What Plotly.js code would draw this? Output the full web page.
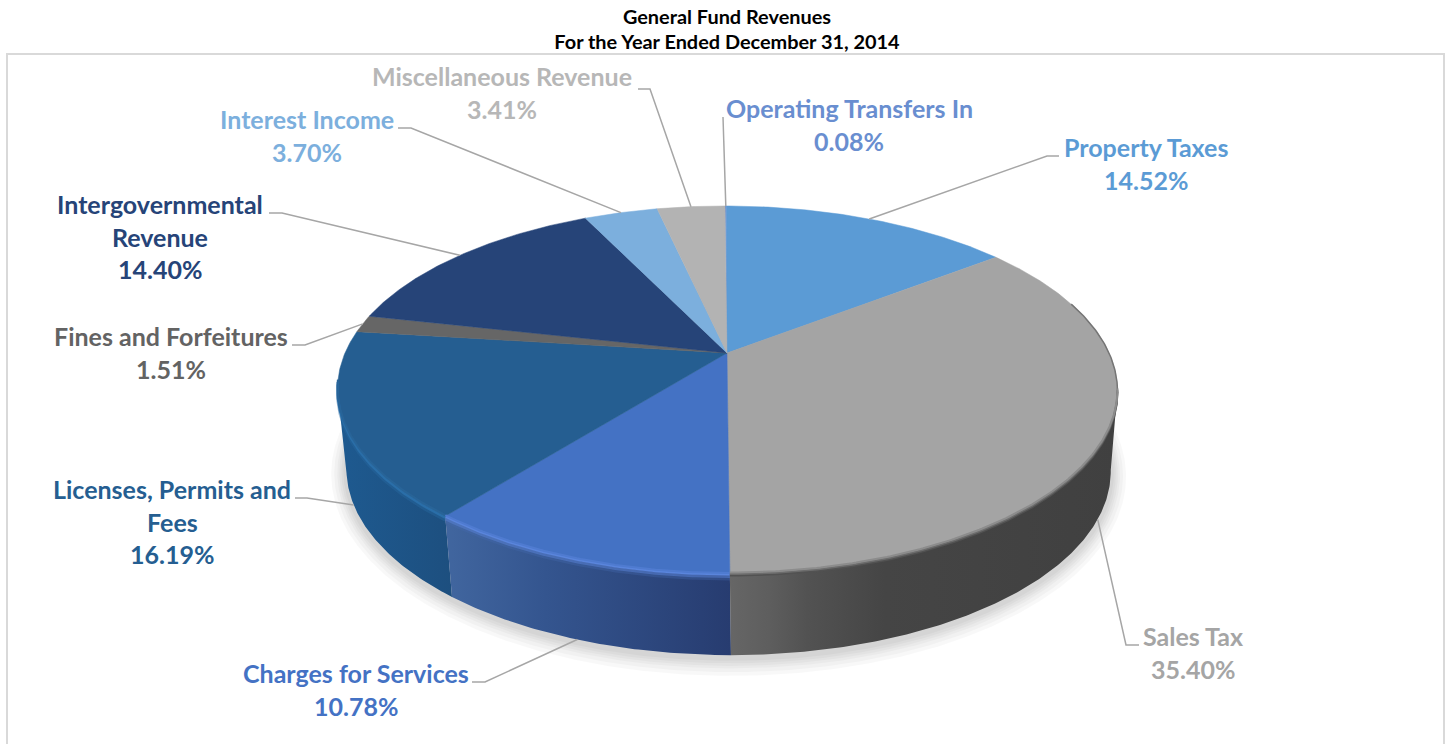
<!DOCTYPE html>
<html>
<head>
<meta charset="utf-8">
<script src="https://cdn.plot.ly/plotly-3.0.1.min.js"></script>
<style>html,body{margin:0;padding:0;background:#fff}#chart{width:1450px;height:744px}</style>
</head>
<body>
<div id="chart"></div>
<script>
// Revenue sources, clockwise from twelve o'clock
const categories = ['Operating Transfers In', 'Property Taxes', 'Sales Tax', 'Charges for Services',
  'Licenses, Permits and Fees', 'Fines and Forfeitures', 'Intergovernmental Revenue',
  'Interest Income', 'Miscellaneous Revenue'];
const shares = [0.08, 14.52, 35.40, 10.78, 16.19, 1.51, 14.40, 3.70, 3.41];

// How each category name wraps on the page
const nameLines = [['Operating Transfers In'], ['Property Taxes'], ['Sales Tax'], ['Charges for Services'],
  ['Licenses, Permits and', 'Fees'], ['Fines and Forfeitures'], ['Intergovernmental', 'Revenue'],
  ['Interest Income'], ['Miscellaneous Revenue']];

const topColors = ['#698ed0', '#5b9bd5', '#a4a4a4', '#4472c4', '#255e91', '#666666', '#264478', '#7cafdd', '#b3b3b3'];
const textColors = ['#698ed0', '#5b9bd5', '#a5a5a5', '#4472c4', '#255e91', '#636363', '#264478', '#7cafdd', '#b7b7b7'];

// Label anchors: centre x and the y of the first line
const labelX = [849, 1146, 1193, 356, 172, 171, 160, 307, 502];
const labelY = [108, 147, 636, 673, 489, 336, 204, 119, 76];
const linePitch = 32.5;

// Leader elbows: [far end of the stub x, near end x, y]; Operating Transfers has a plain drop line
const leaderStubs = [[723, 723, 117], [1059, 1047, 156], [1139, 1126, 645], [472, 485, 682],
  [295, 307, 498], [292, 305, 345], [269, 282, 213], [398, 411, 128], [638, 650, 89]];
// Whether the leader lands on the lower rim of the disc (the wall side) or the upper one
const leaderOnWall = [false, false, true, true, true, false, false, false, false];

// Tilted disc: perspective projection of a circle, with a second ring for the base
const APEX_X = 727, APEX_Y = 353, A = 382, B = 176.6, K = 0.201, LEAN = 0.0136;
const BASE_APEX_Y = 433, BASE_SCALE_X = 0.98, BASE_SCALE_Y = 1.005;

function project(theta, top, grow) {
  const u = Math.sin(theta), v = Math.cos(theta), d = 1 + K * v;
  const g = grow || 0;
  const a = (top ? A : A * BASE_SCALE_X) + g, b = (top ? B : B * BASE_SCALE_Y) + g;
  const y = (top ? APEX_Y : BASE_APEX_Y) - b * v / d;
  return [APEX_X + a * u / d + LEAN * (y - APEX_Y), y];
}
function arc(t0, t1, top, grow) {
  const n = Math.max(2, Math.ceil(Math.abs(t1 - t0) / (Math.PI / 360)));
  const pts = [];
  for (let i = 0; i <= n; i++) pts.push(project(t0 + (t1 - t0) * i / n, top, grow));
  return pts;
}

// Slice boundaries in radians
const total = shares.reduce((s, v) => s + v, 0);
const edges = [0];
shares.forEach(v => edges.push(edges[edges.length - 1] + v / total * 2 * Math.PI));

// Angles where the disc outline turns away from the viewer
const SIDE_RIGHT = Math.acos(-K), SIDE_LEFT = 2 * Math.PI - SIDE_RIGHT;

const traces = [];
const poly = (pts, extra) => Object.assign({
  x: pts.map(p => p[0]), y: pts.map(p => p[1]), type: 'scatter', mode: 'lines',
  fill: 'toself', hoverinfo: 'skip', showlegend: false, line: {width: 0}
}, extra);

// Soft drop shadow under the base
[15, 12, 9, 7, 5, 3].forEach(g => {
  const ring = arc(0, 2 * Math.PI, false, g).map(p => [p[0], p[1] + 2]);
  traces.push(poly(ring, {fillcolor: 'rgba(0,0,0,0.026)'}));
});

// Outer walls of the three slices that face the viewer, clipped to the visible side
const walls = [
  [4, edges[4], SIDE_LEFT, [[0, '#1e5a90'], [1, '#1d4f7f']]],
  [3, edges[3], edges[4], [[0, '#41669f'], [0.35, '#34558f'], [1, '#273c70']]],
  [2, SIDE_RIGHT, edges[3], [[0, '#666666'], [0.1, '#5e5e5e'], [0.2, '#525252'], [0.4, '#454545'], [1, '#404040']]]
];
walls.forEach(w => {
  const pts = arc(w[1], w[2], true).concat(arc(w[2], w[1], false));
  pts.push(pts[0]);
  traces.push(poly(pts, {name: categories[w[0]] + ' wall',
    fillgradient: {type: 'horizontal', colorscale: w[3]}}));
});

// Top face of the pie
shares.forEach((v, i) => {
  const pts = [[APEX_X, APEX_Y]].concat(arc(edges[i], edges[i + 1], true));
  pts.push([APEX_X, APEX_Y]);
  traces.push(poly(pts, {name: categories[i], fillcolor: topColors[i],
    line: {width: 0.5, color: topColors[i]},
    text: v.toFixed(2) + '%', hoverinfo: 'name+text', hoveron: 'fills'}));
});

// Bevel where the top face rolls over into the wall: stacked strokes, [dy, colour, width]
const bevels = [
  [edges[3], edges[4], [[5, 'rgba(70,105,175,0.35)', 3], [2.5, 'rgba(85,125,205,0.65)', 3],
    [0.5, '#5a85dc', 2], [-1, '#4f7bd0', 2]]],
  [edges[4], SIDE_LEFT + 0.05, [[4, 'rgba(40,105,160,0.45)', 3], [1.5, '#2a6ea8', 2.5], [-1, '#286498', 2]]],
  [SIDE_RIGHT - 0.5, SIDE_RIGHT, [[0, '#757575', 1.5]]],
  [SIDE_RIGHT, edges[3], [[1.5, '#525252', 2], [0, '#6c6c6c', 2], [-1.5, '#8c8c8c', 2]]]
];
bevels.forEach(b => {
  const pts = arc(b[0], b[1], true);
  b[2].forEach(s => {
    traces.push({x: pts.map(p => p[0]), y: pts.map(p => p[1] + s[0]), type: 'scatter', mode: 'lines',
      hoverinfo: 'skip', showlegend: false, line: {color: s[1], width: s[2]}});
  });
});

// Leader lines from each label to the middle of its slice
shares.forEach((v, i) => {
  const mid = (edges[i] + edges[i + 1]) / 2;
  const tip = project(mid, !leaderOnWall[i]);
  const s = leaderStubs[i];
  traces.push({x: [s[0], s[1], tip[0]], y: [s[2], s[2], tip[1]], type: 'scatter', mode: 'lines',
    hoverinfo: 'skip', showlegend: false, line: {color: '#a6a6a6', width: 1.5}});
});

// Two or three centred lines per label: the name, then the share
const annotations = [];
shares.forEach((v, i) => {
  nameLines[i].concat([v.toFixed(2) + '%']).forEach((line, j) => {
    annotations.push({x: labelX[i], y: labelY[i] + j * linePitch, xref: 'x', yref: 'y', text: line,
      showarrow: false, xanchor: 'center', yanchor: 'middle',
      font: {family: 'Lato, sans-serif', size: 25, color: textColors[i], weight: 700}});
  });
});

const layout = {
  width: 1450, height: 744, margin: {l: 0, r: 0, t: 0, b: 0},
  paper_bgcolor: '#fff', plot_bgcolor: '#fff', showlegend: false, hovermode: 'closest',
  title: {
    text: '<span style="font-size:19.9px">General Fund Revenues<br>For the Year Ended December 31, 2014</span>',
    x: 727 / 1450, xanchor: 'center', y: 0.968, yanchor: 'middle', yref: 'container',
    font: {family: 'Lato, sans-serif', size: 19, color: '#000', weight: 700}
  },
  xaxis: {range: [0, 1450], visible: false, fixedrange: true},
  yaxis: {range: [744, 0], visible: false, fixedrange: true},
  shapes: [{type: 'rect', xref: 'x', yref: 'y', x0: 7, y0: 54, x1: 1444, y1: 760, layer: 'below',
    line: {color: '#d9d9d9', width: 2}, fillcolor: 'rgba(0,0,0,0)'}],
  annotations: annotations
};

Plotly.newPlot('chart', traces, layout, {displayModeBar: false, responsive: false});
</script>
</body>
</html>
